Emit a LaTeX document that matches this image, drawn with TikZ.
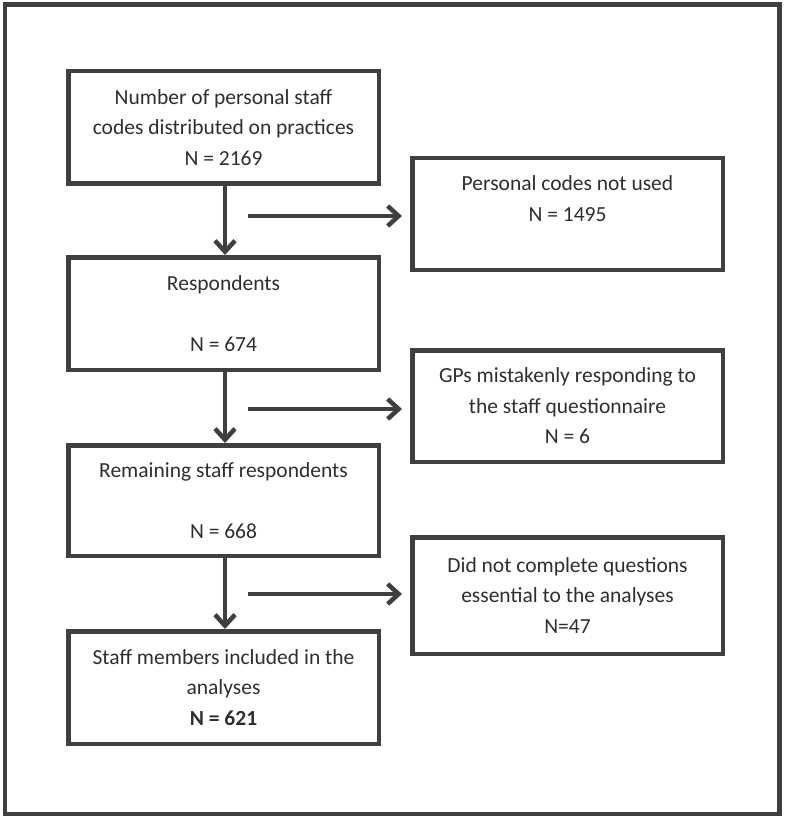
\documentclass[tikz,border=0pt]{standalone}
\usepackage{fontspec}
\setmainfont{Carlito}
\usetikzlibrary{arrows.meta}
\definecolor{linec}{HTML}{3F3F3F}
\definecolor{textc}{HTML}{2E2E2E}
\begin{document}
\begin{tikzpicture}[x=1pt,y=-1pt,
  box/.style={draw=linec, line width=4.5pt, rectangle, minimum width=310.5pt,
    align=center, text=textc, inner sep=0pt,
    font=\fontsize{21.5}{30.5}\selectfont},
  arr/.style={draw=linec, line width=4.5pt, -{Straight Barb[length=11pt,width=20pt]}}]
\useasboundingbox (0,0) rectangle (784,821);
\draw[linec, line width=4.5pt] (5,4.5) rectangle (779.5,814);
\node[box, minimum height=112.5pt] (b1) at (223.5,127.5) {Number of personal staff\\codes distributed on practices\\N = 2169};
\node[box, minimum height=112.5pt] (b2) at (223.5,313.5) {Respondents\\ \\N = 674};
\node[box, minimum height=110.5pt] (b3) at (223.5,500.5) {Remaining staff respondents\\ \\N = 668};
\node[box, minimum height=112.5pt] (b4) at (223.5,687.5) {Staff members included in the\\analyses\\\textbf{N = 621}};
\node[box, minimum height=111.5pt] (r1) at (567.5,214) {Personal codes not used\\N = 1495\\ };
\node[box, minimum height=111.5pt] (r2) at (567.5,406) {GPs mistakenly responding to\\the staff questionnaire\\N = 6};
\node[box, minimum height=116.5pt] (r3) at (567.5,595.5) {Did not complete questions\\essential to the analyses\\N=47};
\coordinate (s1) at (248,216);
\coordinate (s2) at (248,409);
\coordinate (s3) at (248,594);
\draw[arr] ([xshift=1.5pt]b1.south) -- ([xshift=1.5pt]b2.north);
\draw[arr] ([xshift=1.5pt]b2.south) -- ([xshift=1.5pt]b3.north);
\draw[arr] ([xshift=1.5pt]b3.south) -- ([xshift=1.5pt]b4.north);
\draw[arr, shorten >=8pt] (s1) -- (s1 -| r1.west);
\draw[arr, shorten >=8pt] (s2) -- (s2 -| r2.west);
\draw[arr, shorten >=8pt] (s3) -- (s3 -| r3.west);
\end{tikzpicture}
\end{document}
